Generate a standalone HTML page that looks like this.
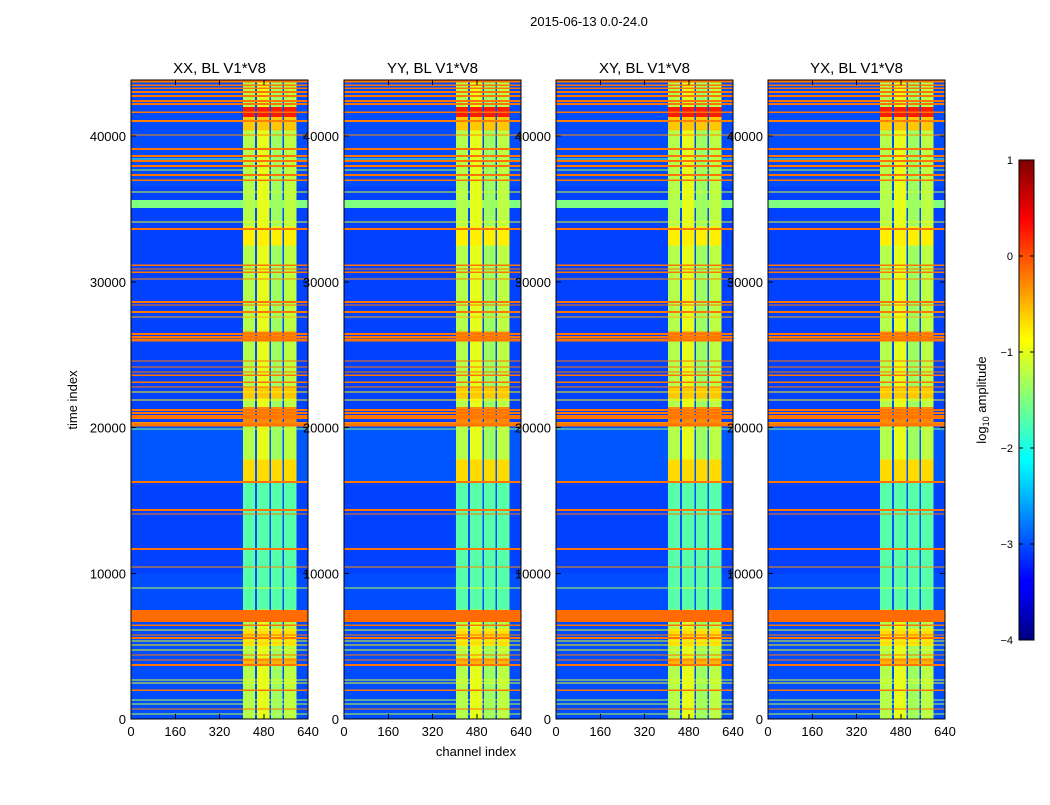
<!DOCTYPE html>
<html><head><meta charset="utf-8"><style>
body{margin:0;background:#fff;width:1050px;height:800px;overflow:hidden;font-family:"Liberation Sans",sans-serif}
svg text{font-family:"Liberation Sans",sans-serif;fill:#000}
</style></head><body>
<svg id="chart" width="1050" height="800" viewBox="0 0 1050 800" shape-rendering="crispEdges">
<defs><linearGradient id="jetg" x1="0" y1="1" x2="0" y2="0">
<stop offset="0" stop-color="#00007f"/><stop offset="0.11" stop-color="#0000ff"/><stop offset="0.125" stop-color="#0000ff"/><stop offset="0.34" stop-color="#00dfff"/><stop offset="0.375" stop-color="#00ffff"/><stop offset="0.5" stop-color="#7fff7f"/><stop offset="0.625" stop-color="#ffff00"/><stop offset="0.66" stop-color="#ffdf00"/><stop offset="0.875" stop-color="#ff0000"/><stop offset="1" stop-color="#7f0000"/></linearGradient></defs>
<text x="589" y="26" font-size="13" text-anchor="middle">2015-06-13 0.0-24.0</text>
<text x="77" y="400" font-size="13" text-anchor="middle" transform="rotate(-90 77 400)">time index</text>
<text x="476" y="756" font-size="13" text-anchor="middle">channel index</text>
<g id="panels"></g>
<g id="cbar"></g>
</svg>
<script>
const NS="http://www.w3.org/2000/svg";
const panelTitles=["XX, BL V1*V8","YY, BL V1*V8","XY, BL V1*V8","YX, BL V1*V8"];
const panelLefts=[131,344,556,768];
const xTicks=[0,160,320,480,640];
const yTicks=[0,10000,20000,30000,40000];
const cbTicks=[1,0,-1,-2,-3,-4];
const cbLabels=["1","0","\u22121","\u22122","\u22123","\u22124"];
// channel segments and their base log-amplitude
const colStart=[0,405,448,456,500,507,548,553,598];
const colEnd=[405,448,456,500,507,548,553,598,640];
const colVal=[-3.05,-1.25,-3.0,-1.0,-3.0,-1.35,-3.0,-1.2,-3.05];
// background time bands
const bgStart=[0,10000,16300,20000,36500];
const bgEnd=[10000,16300,20000,36500,43850];
const bgVal=[-3.0,-3.05,-2.95,-3.05,-3.0];
// overrides inside RFI channel band
const bandStart=[41300,40400,32500,22000,20300,16300,5000,3700,26000,7500];
const bandEnd=[42000,41300,33800,22800,21400,17800,6200,4200,26600,16200];
const bandVal=[0.25,-0.6,-0.8,-0.6,-0.3,-0.7,-0.7,-0.5,-0.3,-1.7];
// horizontal RFI lines: center time, width (time units), value
const lineT=[43772,43497,43291,43017,42742,42399,42193,41644,41027,40066,39106,38625,38419,38282,37939,37664,37321,36978,35332,36155,34100,33619,31149,30875,30669,30189,28611,28405,27925,27582,26415,26210,26004,24563,24151,23808,23602,23122,22779,22435,21886,21200,20994,20789,20652,20309,20171,19897,16261,14340,14065,11664,10429,8988,7067,6449,6106,5763,5557,5352,5077,4734,4391,4048,3705,2676,2470,1990,1304,1029,686,343];
const lineW=[206,103,103,137,137,137,137,103,137,70,137,137,70,137,137,70,137,103,550,70,70,137,103,70,103,70,137,70,137,70,137,137,206,70,70,70,103,103,70,70,70,137,137,137,137,137,206,70,137,137,70,137,70,70,823,103,70,70,137,70,70,70,70,70,137,70,70,103,70,70,70,70];
const lineV=[-0.2,-0.2,-0.2,-0.2,-0.2,-0.2,-0.2,-0.2,-0.25,-0.3,-0.2,-0.2,-1.7,-0.2,-0.2,-1.2,-0.2,-0.2,-1.5,-1.1,-1.0,-0.2,-0.2,-0.2,-0.2,-0.3,-0.2,-0.2,-0.2,-0.5,-0.2,-0.2,-0.2,-0.2,-0.2,-0.2,-0.2,-0.2,-0.2,-0.8,-0.8,-0.2,-0.2,-0.2,-0.2,-0.3,-0.2,-1.5,-0.2,-0.2,-0.2,-0.2,-0.3,-1.2,-0.15,-0.2,-1.0,-0.2,-0.2,-1.0,-0.8,-1.0,-0.2,-0.2,-0.2,-1.0,-1.0,-0.2,-1.2,-1.2,-0.2,-1.2];
const vmin=-4,vmax=1,tmax=43850,chMax=640;
const plotTop=80,plotBot=719,pw=177;
function jet(v){let t=(v-vmin)/(vmax-vmin);t=Math.max(0,Math.min(1,t));
 const c=x=>Math.round(255*Math.max(0,Math.min(1,1.5-Math.abs(x))));
 return `rgb(${c(4*t-3)},${c(4*t-2)},${c(4*t-1)})`;}
function yS(t){return plotBot-(plotBot-plotTop)*t/tmax;}
function mk(parent,tag,attrs){const e=document.createElementNS(NS,tag);for(const k in attrs)e.setAttribute(k,attrs[k]);parent.appendChild(e);return e;}
const G=document.getElementById('panels');
panelLefts.forEach((L,p)=>{
 const xS=c=>L+pw*c/chMax;
 const g=mk(G,'g',{});
 
 
 const rect=(t0,t1,c0,c1,v)=>{const r=mk(g,'rect',{x:xS(c0),y:yS(t1),width:xS(c1)-xS(c0),height:Math.max(1,yS(t0)-yS(t1)),fill:jet(v)});
  
  };
 for(let c=0;c<colStart.length;c++){
  for(let b=0;b<bgStart.length;b++)rect(bgStart[b],bgEnd[b],colStart[c],colEnd[c],Math.max(bgVal[b],colVal[c]));
  if(colVal[c]>-2.5)for(let b=0;b<bandStart.length;b++)rect(bandStart[b],bandEnd[b],colStart[c],colEnd[c],bandVal[b]);
  for(let i=0;i<lineT.length;i++)rect(lineT[i]-lineW[i]/2,lineT[i]+lineW[i]/2,colStart[c],colEnd[c],Math.max(lineV[i],colVal[c]));
 }
 const fr=mk(g,'rect',{x:L,y:plotTop,width:pw,height:plotBot-plotTop,fill:'none',stroke:'#000','stroke-width':1});
 
 
 const tt=mk(g,'text',{x:L+pw/2,y:73,'font-size':15,'text-anchor':'middle'});tt.textContent=panelTitles[p];
 
 
 xTicks.forEach(v=>{const x=xS(v);mk(g,'line',{x1:x,x2:x,y1:plotBot,y2:plotBot-5,stroke:'#000'});mk(g,'line',{x1:x,x2:x,y1:plotTop,y2:plotTop+5,stroke:'#000'});
  const t=mk(g,'text',{x:x,y:plotBot+17,'font-size':13,'text-anchor':'middle'});t.textContent=v;
  
  });
 yTicks.forEach(v=>{const y=yS(v);mk(g,'line',{x1:L,x2:L+5,y1:y,y2:y,stroke:'#000'});mk(g,'line',{x1:L+pw,x2:L+pw-5,y1:y,y2:y,stroke:'#000'});
  const t=mk(G,'text',{x:L-5,y:y+5,'font-size':13,'text-anchor':'end'});t.textContent=v;
  
  });
});
const C=document.getElementById('cbar');
const cb0=160,cb1=640,cbx=1019,cbw=15;
mk(C,'rect',{x:cbx,y:cb0,width:cbw,height:cb1-cb0,fill:'url(#jetg)',stroke:'#000'});
cbTicks.forEach((v,i)=>{const y=cb1-(cb1-cb0)*(v-vmin)/(vmax-vmin);
 mk(C,'line',{x1:cbx,x2:cbx+4,y1:y,y2:y,stroke:'#000'});mk(C,'line',{x1:cbx+cbw,x2:cbx+cbw-4,y1:y,y2:y,stroke:'#000'});
 const t=mk(C,'text',{x:1013,y:y+4,'font-size':11,'text-anchor':'end'});t.textContent=cbLabels[i];
 
 });
const lab=mk(C,'text',{x:986,y:400,'font-size':13,'text-anchor':'middle',transform:'rotate(-90 986 400)'});
lab.innerHTML='log<tspan font-size="9" dy="3">10</tspan><tspan dy="-3"> amplitude</tspan>';


</script>
</body></html>
